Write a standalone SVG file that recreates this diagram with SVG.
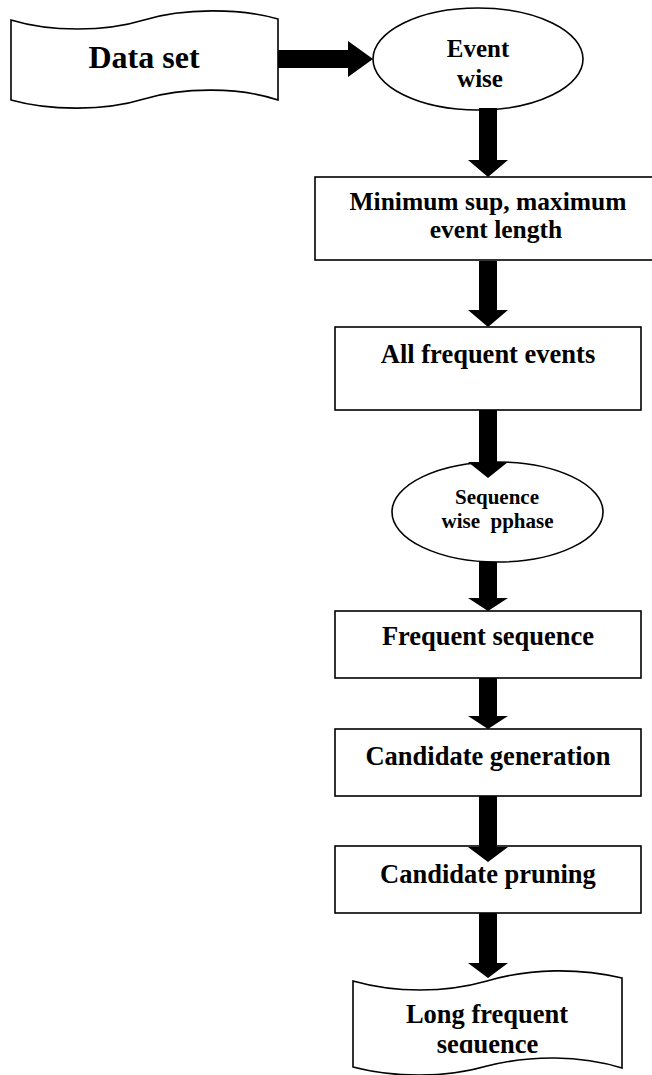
<svg xmlns="http://www.w3.org/2000/svg" width="652" height="1075" viewBox="0 0 652 1075">
<style>
.shape{fill:#fff;stroke:#000;stroke-width:1.6}
.t{font-family:"Liberation Serif","Times New Roman",serif;font-weight:bold;fill:#000;text-anchor:middle}
.arr{fill:#000;stroke:none}
</style>
<defs>
<clipPath id="clipLong"><rect x="340" y="990" width="300" height="63"/></clipPath>
</defs>
<rect width="652" height="1075" fill="#fff"/>
<g id="node-dataset">
<path class="shape" d="M11,20 C50,32 105,32 144,20 C183,8 240,8 278,19 L278,100 C240,87 183,87 144,99 C105,111 50,111 11,100 Z"/>
<text class="t" x="144" y="68" font-size="32">Data set</text>
</g>
<g id="node-eventwise">
<ellipse class="shape" cx="478" cy="59" rx="105" ry="51"/>
<text class="t" x="478" y="57" font-size="25">Event</text>
<text class="t" x="480" y="87" font-size="25">wise</text>
</g>
<g id="node-minsup">
<rect class="shape" x="315" y="177" width="345" height="83"/>
<text class="t" x="488" y="210" font-size="25.5">Minimum sup, maximum</text>
<text class="t" x="496" y="238" font-size="25.5">event length</text>
</g>
<g id="node-allfreq">
<rect class="shape" x="335" y="327" width="306" height="83"/>
<text class="t" x="488" y="363" font-size="26.5">All frequent events</text>
</g>
<g id="node-seqwise">
<ellipse class="shape" cx="497.5" cy="512" rx="105.5" ry="50"/>
<text class="t" x="497" y="504" font-size="21">Sequence</text>
<text class="t" x="497.5" y="528" font-size="21" xml:space="preserve">wise  pphase</text>
</g>
<g id="node-freqseq">
<rect class="shape" x="335" y="611" width="306" height="67"/>
<text class="t" x="488" y="645" font-size="26.5">Frequent sequence</text>
</g>
<g id="node-candgen">
<rect class="shape" x="335" y="729" width="306" height="67"/>
<text class="t" x="488" y="765" font-size="26.5">Candidate generation</text>
</g>
<g id="node-candprune">
<rect class="shape" x="335" y="846" width="306" height="67"/>
<text class="t" x="488" y="883" font-size="26.5">Candidate pruning</text>
</g>
<g id="node-longfreq">
<path class="shape" d="M353,981 C395,993 445,993 487,981 C530,968 580,968 622,978 L622,1068 C580,1055 530,1055 487,1066 C445,1078 395,1078 353,1067 Z"/>
<text class="t" x="487" y="1023" font-size="26.5">Long frequent</text>
<text class="t" x="487.5" y="1053" font-size="26.5" clip-path="url(#clipLong)">sequence</text>
</g>
<g id="connectors">
<polygon class="arr" points="278,50 348,50 348,41 373,59 348,77 348,68 278,68"/>
<polygon class="arr" points="479,108 497,108 497,160 508,160 488,177 468,160 479,160"/>
<polygon class="arr" points="479,261 497,261 497,310 508,310 488,327 468,310 479,310"/>
<polygon class="arr" points="479,410 497,410 497,462 508,462 488,478 468,462 479,462"/>
<polygon class="arr" points="479,562 497,562 497,598 508,598 488,611 468,598 479,598"/>
<polygon class="arr" points="479,678 497,678 497,716 508,716 488,729 468,716 479,716"/>
<polygon class="arr" points="479,796 497,796 497,847 508,847 488,862 468,847 479,847"/>
<polygon class="arr" points="479,913 497,913 497,963 508,963 488,978 468,963 479,963"/>
</g>
</svg>
